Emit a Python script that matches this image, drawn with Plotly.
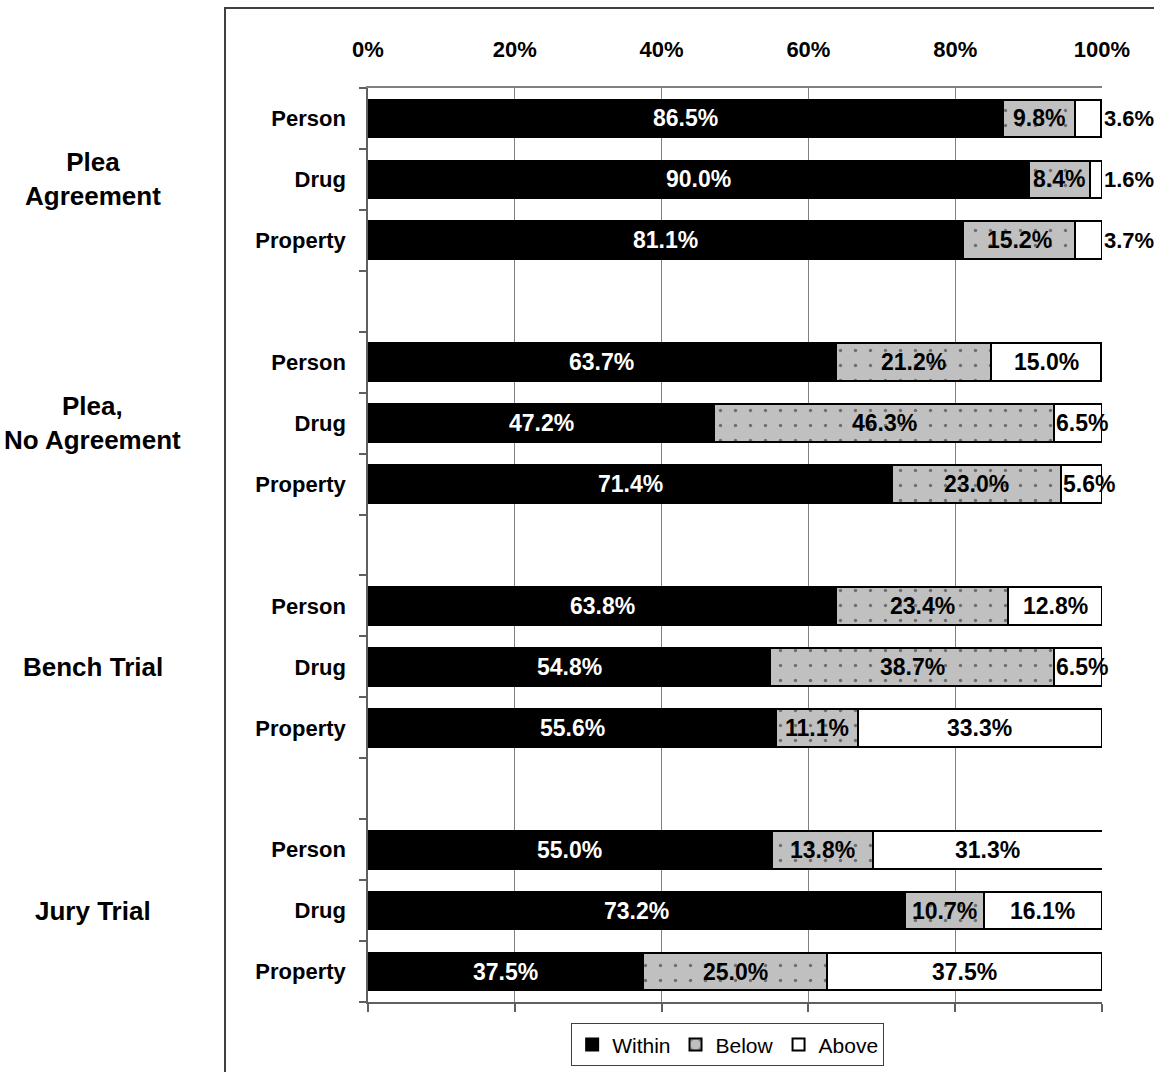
import plotly.graph_objects as go

# Sentence position relative to guideline range, by disposition and offense type
groups = ["Plea<br>Agreement", "Plea,<br>No Agreement", "Bench Trial", "Jury Trial"]
offenses = ["Person", "Drug", "Property"]

within = [86.5, 90.0, 81.1, 63.7, 47.2, 71.4, 63.8, 54.8, 55.6, 55.0, 73.2, 37.5]
below = [9.8, 8.4, 15.2, 21.2, 46.3, 23.0, 23.4, 38.7, 11.1, 13.8, 10.7, 25.0]
above = [3.6, 1.6, 3.7, 15.0, 6.5, 5.6, 12.8, 6.5, 33.3, 31.3, 16.1, 37.5]

x_ticks = [0, 20, 40, 60, 80, 100]
x_tick_labels = ["0%", "20%", "40%", "60%", "80%", "100%"]

FONT = "Liberation Sans, Arial, sans-serif"
X_MAX = 100

# Four rows per disposition (three offenses + a spacer row)
ypos = [g * 4 + r for g in range(len(groups)) for r in range(len(offenses))]
ylabels = offenses * len(groups)
boundaries = [b - 0.5 for b in range(16)]

fig = go.Figure()

outline = dict(color="black", width=2)
fig.add_trace(go.Bar(
    name="Within", y=ypos, x=within, orientation="h",
    marker=dict(color="black", line=outline), width=0.62,
    hoverinfo="skip",
))
fig.add_trace(go.Bar(
    name="Below", y=ypos, x=below, orientation="h",
    marker=dict(color="#C0C0C0", line=outline,
                pattern=dict(shape=".", fgcolor="#6E6E6E", bgcolor="#C0C0C0",
                             size=15, solidity=0.04, fillmode="replace")),
    width=0.62, hoverinfo="skip",
))
fig.add_trace(go.Bar(
    name="Above", y=ypos, x=above, orientation="h",
    marker=dict(color="white", line=outline), width=0.62,
    hoverinfo="skip",
))
# invisible trace so the bottom tick axis is rendered
fig.add_trace(go.Scatter(x=[0], y=[0], xaxis="x2", mode="markers",
                         marker=dict(opacity=0), showlegend=False,
                         hoverinfo="skip"))

annotations = []
label_font = dict(family=FONT, size=23, color="black")
for i, y in enumerate(ypos):
    w, b, a = within[i], below[i], above[i]
    annotations.append(dict(
        x=w / 2, y=y, xref="x", yref="y", text=f"<b>{w:.1f}%</b>",
        showarrow=False, font=dict(family=FONT, size=23, color="white"),
    ))
    annotations.append(dict(
        x=w + b / 2, y=y, xref="x", yref="y", text=f"<b>{b:.1f}%</b>",
        showarrow=False, font=label_font,
    ))
    start = w + b
    # narrow segments carry their label beside / past the bar end
    if a < 5:
        ax, xref, anchor, fnt = 1.0, "paper", "left", dict(label_font, size=22)
    elif a < 10:
        ax, xref, anchor, fnt = start / X_MAX, "paper", "left", label_font
    else:
        ax, xref, anchor, fnt = start + a / 2, "x", "center", label_font
    annotations.append(dict(
        x=ax, y=y, xref=xref, yref="y", text=f"<b>{a:.1f}%</b>",
        showarrow=False, xanchor=anchor, font=fnt,
    ))

# Disposition group labels on the far left
for g, name in enumerate(groups):
    annotations.append(dict(
        x=-0.3747, y=g * 4 + 1, xref="paper", yref="y",
        text=f"<b>{name}</b>", showarrow=False, xanchor="center",
        align="center", font=dict(family=FONT, size=26, color="black"),
    ))

fig.update_layout(
    width=1154, height=1072,
    margin=dict(l=368, r=52, t=88, b=70, autoexpand=False),
    paper_bgcolor="white", plot_bgcolor="white",
    barmode="stack", bargap=0.38,
    font=dict(family=FONT, size=21, color="black"),
    showlegend=True,
    legend=dict(
        orientation="h", x=0.49, xanchor="center", y=-0.047, yanchor="middle",
        bordercolor="#404040", borderwidth=1, bgcolor="white",
        font=dict(family=FONT, size=21, color="black"),
        itemwidth=30, traceorder="normal",
    ),
    xaxis=dict(
        range=[0, X_MAX], side="top", tickvals=x_ticks,
        ticktext=[f"<b>{t}</b>" for t in x_tick_labels],
        tickfont=dict(family=FONT, size=22, color="black"),
        ticks="", ticklabelstandoff=20,
        showgrid=True, gridcolor="#808080", gridwidth=1, zeroline=False,
        showline=True, linecolor="#808080", linewidth=1.5,
        fixedrange=True,
    ),
    xaxis2=dict(
        range=[0, X_MAX], overlaying="x", side="bottom", anchor="y",
        tickvals=x_ticks, showticklabels=False,
        ticks="outside", ticklen=8, tickcolor="#606060", tickwidth=1.5,
        showgrid=False, zeroline=False,
        showline=True, linecolor="#606060", linewidth=1.5,
    ),
    yaxis=dict(
        range=[14.5, -0.5], tickvals=ypos, ticktext=[f"<b>{t}</b>" for t in ylabels],
        tickfont=dict(family=FONT, size=22, color="black"),
        ticks="", ticklabelstandoff=16,
        minor=dict(tickmode="array", tickvals=boundaries, ticks="outside",
                   ticklen=7, tickcolor="#606060", tickwidth=1.5, showgrid=False),
        showgrid=False, zeroline=False,
        showline=True, linecolor="#606060", linewidth=1.5,
    ),
    annotations=annotations,
    shapes=[dict(
        type="rect", xref="paper", yref="paper",
        x0=-0.1948, x1=1.2, y0=-0.2, y1=1.0875,
        line=dict(color="#404040", width=2), fillcolor="rgba(0,0,0,0)",
        layer="below",
    )],
)

fig.write_html("out.html")
